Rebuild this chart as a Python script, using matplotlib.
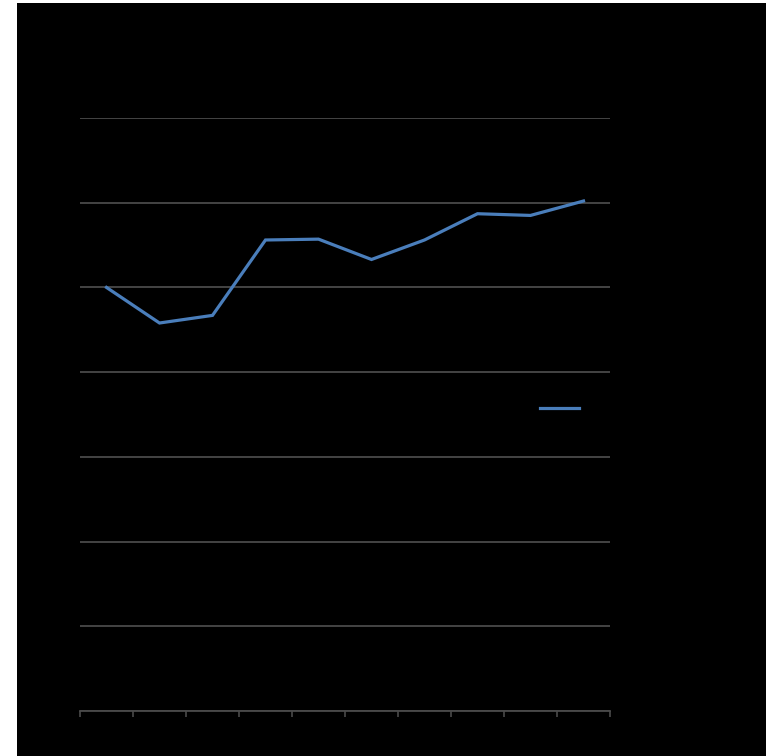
import matplotlib
matplotlib.use('Agg')
import matplotlib.pyplot as plt
import numpy as np
from matplotlib.patches import Rectangle

# Data (10 categories, one series)
categories = ['1', '2', '3', '4', '5', '6', '7', '8', '9', '10']
values = [5.00, 4.58, 4.67, 5.56, 5.57, 5.33, 5.56, 5.87, 5.85, 6.02]
y_ticks = [0, 1, 2, 3, 4, 5, 6, 7]
series_name = 'Series1'

line_color = '#4A7EBB'
grid_color = '#4a4a4a'

fig = plt.figure(figsize=(7.69, 7.56), dpi=100, facecolor='white')
# black chart area with a thin white margin at left / top / right
fig.patches.append(Rectangle((17 / 769, 0), (766 - 17) / 769, 753 / 756,
                             transform=fig.transFigure, facecolor='black',
                             edgecolor='none', zorder=-1))

ax = fig.add_axes([80 / 769, 45 / 756, 530 / 769, 593 / 756])
ax.set_facecolor('black')

x = np.arange(len(categories)) + 0.5
ax.plot(x, values, color=line_color, lw=2.3, solid_joinstyle='miter',
        label=series_name, zorder=3)

ax.set_xlim(0, len(categories))
ax.set_ylim(y_ticks[0], y_ticks[-1])

# horizontal gridlines
ax.set_yticks(y_ticks)
ax.yaxis.grid(True, color=grid_color, lw=1.3)
ax.tick_params(axis='y', length=0, labelcolor='black')

# category axis: tick marks between categories, labels centred
ax.set_xticks(np.arange(len(categories) + 1))
ax.set_xticklabels([])
ax.set_xticks(x, minor=True)
ax.set_xticklabels(categories, minor=True)
ax.tick_params(axis='x', which='major', direction='out', length=4,
               width=1.2, color=grid_color)
ax.tick_params(axis='x', which='minor', length=0, labelcolor='black')

for side in ['top', 'right', 'left']:
    ax.spines[side].set_visible(False)
ax.spines['bottom'].set_color(grid_color)
ax.spines['bottom'].set_linewidth(1.3)

leg = ax.legend(loc='center left', bbox_to_anchor=(540 / 769, 1 - 409 / 756),
                bbox_transform=fig.transFigure, frameon=False, borderpad=0,
                borderaxespad=0, handlelength=2.8, fontsize=10)
for t in leg.get_texts():
    t.set_color('black')

fig.savefig('out.png', dpi=100, facecolor='white')
